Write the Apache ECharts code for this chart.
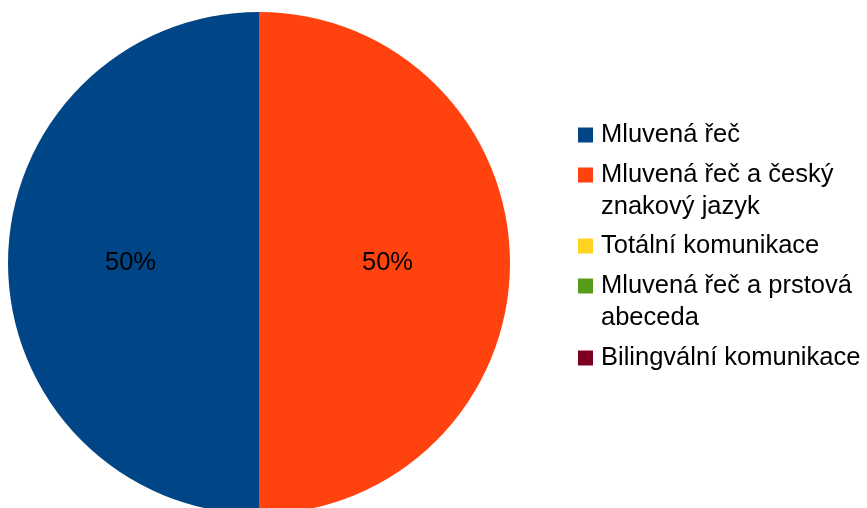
<!DOCTYPE html>
<html><head><meta charset="utf-8">
<script src="https://cdn.jsdelivr.net/npm/echarts@6/dist/echarts.min.js"></script>
<style>html,body{margin:0;padding:0;background:#fff}#c{width:867px;height:508px}</style>
</head><body><div id="c"></div>
<script>
var categories = ['Mluvená řeč', 'Mluvená řeč a český znakový jazyk', 'Totální komunikace', 'Mluvená řeč a prstová abeceda', 'Bilingvální komunikace'];
var legendLabels = ['Mluvená řeč', 'Mluvená řeč a český\nznakový jazyk', 'Totální komunikace', 'Mluvená řeč a prstová\nabeceda', 'Bilingvální komunikace'];
var values = [50, 50, 0, 0, 0];
var colors = ['#004586', '#ff420e', '#ffd320', '#579d1c', '#7e0021'];

var FONT = '"Liberation Sans", Arial, sans-serif';
var legendTops = [119, 159, 230, 270, 342];
var twoLineIcon = 'path://M0,8.5h15v15h-15z M0,0h0.01v0.01h-0.01z M14.99,63.99h0.01v0.01h-0.01z';

var legends = categories.map(function (name, i) {
  var two = legendLabels[i].indexOf('\n') >= 0;
  return {
    orient: 'vertical', left: 578, top: legendTops[i], padding: 0,
    itemWidth: 15, itemHeight: two ? 64 : 15,
    icon: two ? twoLineIcon : 'rect',
    selectedMode: false,
    data: [name],
    formatter: function () { return legendLabels[i]; },
    textStyle: { fontFamily: FONT, fontSize: 25.5, color: '#000', lineHeight: 32, padding: [0, 0, 0, 3] }
  };
});

var chart = echarts.init(document.getElementById('c'));
chart.setOption({
  animation: false,
  color: colors,
  legend: legends,
  series: [{
    type: 'pie',
    center: [259, 263],
    radius: 251,
    startAngle: 90,
    clockwise: false,
    stillShowZeroSum: true,
    itemStyle: { borderWidth: 0 },
    label: {
      show: true, position: 'inside',
      formatter: function (p) { return p.value ? Math.round(p.percent) + '%' : ''; },
      fontFamily: FONT, fontSize: 25.5, color: '#000'
    },
    labelLine: { show: false },
    emphasis: { disabled: true },
    data: categories.map(function (n, i) { return { name: n, value: values[i] }; })
  }]
});
</script></body></html>
